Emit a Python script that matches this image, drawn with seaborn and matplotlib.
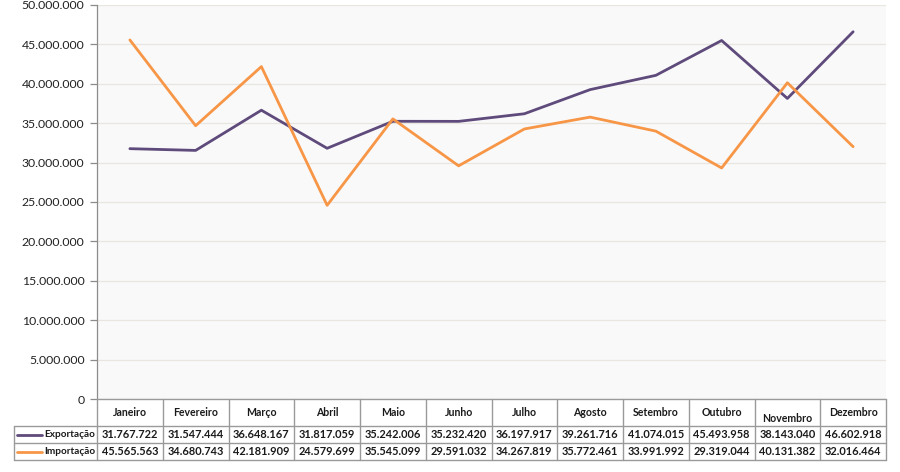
import matplotlib
matplotlib.use("Agg")
import matplotlib.pyplot as plt
import seaborn as sns
import pandas as pd
import numpy as np
from matplotlib.ticker import FuncFormatter, MultipleLocator

meses = ["Janeiro", "Fevereiro", "Março", "Abril", "Maio", "Junho", "Julho",
         "Agosto", "Setembro", "Outubro", "Novembro", "Dezembro"]
exportacao = [31767722, 31547444, 36648167, 31817059, 35242006, 35232420,
              36197917, 39261716, 41074015, 45493958, 38143040, 46602918]
importacao = [45565563, 34680743, 42181909, 24579699, 35545099, 29591032,
              34267819, 35772461, 33991992, 29319044, 40131382, 32016464]
series_names = ["Exportação", "Importação"]
colors = {"Exportação": "#5f4b7b", "Importação": "#f79646"}

def fmt(v):
    return f"{int(v):,}".replace(",", ".")

df = pd.DataFrame({
    "pos": list(range(len(meses))) * 2,
    "valor": exportacao + importacao,
    "serie": [series_names[0]] * len(meses) + [series_names[1]] * len(meses),
})

sns.set_theme(style="white")
plt.rcParams["font.family"] = ["Lato", "DejaVu Sans"]

W, H = 900, 472
fig = plt.figure(figsize=(9, 4.72), dpi=100)
fig.patch.set_facecolor("white")

L, R, T, B = 97, 886, 5, 399
ax = fig.add_axes([L / W, 1 - B / H, (R - L) / W, (B - T) / H])
ax.set_facecolor("#f9f9fa")

sns.lineplot(data=df, x="pos", y="valor", hue="serie", palette=colors,
             linewidth=2.0, ax=ax, legend=False, sort=False)

ax.set_xlim(-0.5, len(meses) - 0.5)
ax.set_ylim(0, 50000000)
ax.yaxis.set_major_locator(MultipleLocator(5000000))
ax.yaxis.set_major_formatter(FuncFormatter(lambda v, p: fmt(v)))
ax.grid(axis="y", color="#e8e6de", linewidth=0.9)
ax.set_axisbelow(True)
ax.set_xticks([])
ax.set_xlabel("")
ax.set_ylabel("")
for s in ["top", "right", "bottom"]:
    ax.spines[s].set_visible(False)
ax.spines["left"].set_color("#8c8c8c")
ax.spines["left"].set_linewidth(0.9)
ax.tick_params(axis="y", direction="out", length=5, width=0.9, color="#8c8c8c",
               labelsize=8.8, labelcolor="#222222", pad=4, left=True)

# Data table
x0 = 14
rows_y = [399, 426, 443, 460]
tab = fig.add_axes([x0 / W, 1 - rows_y[-1] / H, (R - x0) / W, (rows_y[-1] - rows_y[0]) / H])
tab.set_xlim(x0, R)
tab.set_ylim(rows_y[-1], rows_y[0])
tab.axis("off")
lc = "#9a9a9a"
cw = (R - L) / len(meses)
tab.plot([L, R], [rows_y[0], rows_y[0]], color=lc, lw=1, clip_on=False)
for y in rows_y[1:]:
    tab.plot([x0, R], [y, y], color=lc, lw=1, clip_on=False)
tab.plot([x0, x0], [rows_y[1], rows_y[3]], color=lc, lw=1, clip_on=False)
for i in range(len(meses) + 1):
    xv = L + i * cw
    tab.plot([xv, xv], [rows_y[0], rows_y[3]], color=lc, lw=1, clip_on=False)

for i, m in enumerate(meses):
    xc = L + (i + 0.5) * cw
    yc = (rows_y[0] + rows_y[1]) / 2
    if m == "Novembro":
        yc += 6
    tab.text(xc, yc, m, ha="center", va="center", fontsize=7.6, fontweight="bold", color="#1a1a1a")
    tab.text(xc, (rows_y[1] + rows_y[2]) / 2, fmt(exportacao[i]), ha="center", va="center",
             fontsize=7.9, fontweight="bold", color="#1a1a1a")
    tab.text(xc, (rows_y[2] + rows_y[3]) / 2, fmt(importacao[i]), ha="center", va="center",
             fontsize=7.9, fontweight="bold", color="#1a1a1a")

for k, name in enumerate(series_names):
    yc = (rows_y[k + 1] + rows_y[k + 2]) / 2
    tab.plot([17, 42], [yc, yc], color=colors[name], lw=2.0, clip_on=False)
    tab.text(44, yc, name, ha="left", va="center", fontsize=7.2, fontweight="bold", color="#1a1a1a")

fig.savefig("out.png", dpi=100)
